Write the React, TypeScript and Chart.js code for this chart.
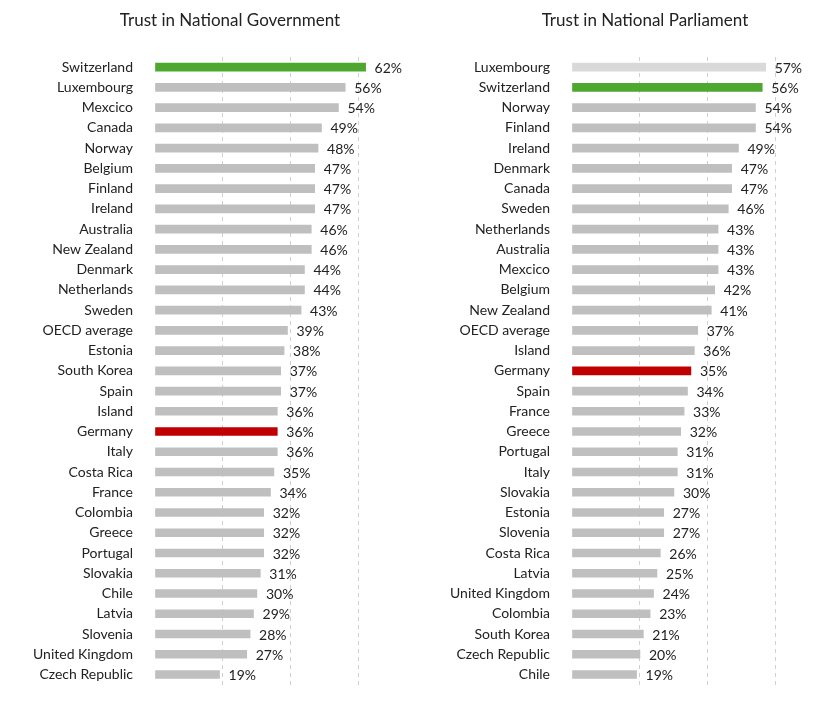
import React, { useEffect, useRef } from "react";
import { Chart, registerables } from "chart.js";
Chart.register(...registerables);

const govCountries = ["Switzerland","Luxembourg","Mexcico","Canada","Norway","Belgium","Finland","Ireland","Australia","New Zealand","Denmark","Netherlands","Sweden","OECD average","Estonia","South Korea","Spain","Island","Germany","Italy","Costa Rica","France","Colombia","Greece","Portugal","Slovakia","Chile","Latvia","Slovenia","United Kingdom","Czech Republic"];
const govValues = [62,56,54,49,48,47,47,47,46,46,44,44,43,39,38,37,37,36,36,36,35,34,32,32,32,31,30,29,28,27,19];
const parCountries = ["Luxembourg","Switzerland","Norway","Finland","Ireland","Denmark","Canada","Sweden","Netherlands","Australia","Mexcico","Belgium","New Zealand","OECD average","Island","Germany","Spain","France","Greece","Portugal","Italy","Slovakia","Estonia","Slovenia","Costa Rica","Latvia","United Kingdom","Colombia","South Korea","Czech Republic","Chile"];
const parValues = [57,56,54,54,49,47,47,46,43,43,43,42,41,37,36,35,34,33,32,31,31,30,27,27,26,25,24,23,21,20,19];
const gridTicks = [0, 20, 40, 60];

const FONT = "Lato, 'Open Sans', sans-serif";

function colorFor(name: string, idx: number, right: boolean) {
  if (name === "Switzerland") return "#4ea72e";
  if (name === "Germany") return "#c00000";
  if (right && idx === 0) return "#d9d9d9";
  return "#bfbfbf";
}

function Panel({ labels, values, right, left }: { labels: string[]; values: number[]; right: boolean; left: number }) {
  const ref = useRef<HTMLCanvasElement>(null);
  useEffect(() => {
    const axisW = right ? 164 : 155;
    const labelPlugin = {
      id: "vals",
      afterDatasetsDraw(chart: any) {
        const ctx = chart.ctx;
        const meta = chart.getDatasetMeta(0);
        ctx.save();
        ctx.font = `14px ${FONT}`;
        ctx.fillStyle = "#222";
        ctx.textBaseline = "middle";
        meta.data.forEach((bar: any, i: number) => {
          ctx.fillText(values[i] + "%", bar.x + 9, bar.y + 1);
        });
        ctx.restore();
      },
    };
    const chart = new Chart(ref.current!, {
      type: "bar",
      data: {
        labels,
        datasets: [{ data: values, backgroundColor: labels.map((l, i) => colorFor(l, i, right)), barThickness: 8 }],
      },
      options: {
        indexAxis: "y",
        responsive: false,
        animation: false,
        layout: { padding: { top: 57, bottom: 12, right: 408 - (right ? 395 : 386) } },
        plugins: { legend: { display: false }, tooltip: { enabled: false } },
        scales: {
          x: {
            min: 0, max: 68,
            ticks: { display: false },
            border: { display: false, dash: [4, 4] },
            grid: { color: (c: any) => (c.tick && c.tick.value === 0 ? "rgba(0,0,0,0)" : "#cfcfcf"), tickLength: 0 },
            afterBuildTicks: (s: any) => { s.ticks = gridTicks.map((v) => ({ value: v })); },
          },
          y: {
            grid: { display: false },
            border: { display: false },
            ticks: { color: "#222", font: { family: FONT, size: 14 }, padding: 14, autoSkip: false },
            afterFit: (s: any) => { s.width = axisW; },
          },
        },
      },
      plugins: [labelPlugin],
    } as any);
    return () => chart.destroy();
  }, []);
  return <canvas ref={ref} width={408} height={707} style={{ position: "absolute", left, top: 0 }} />;
}

export default function App() {
  return (
    <div style={{ position: "absolute", left: 0, top: 0, width: 817, height: 707, background: "#fff", fontFamily: FONT }}>
      <Panel labels={govCountries} values={govValues} right={false} left={0} />
      <Panel labels={parCountries} values={parValues} right={true} left={408} />
      <div style={{ position: "absolute", top: 9, left: 0, width: 460, textAlign: "center", fontSize: 17, color: "#222" }}>Trust in National Government</div>
      <div style={{ position: "absolute", top: 9, left: 415, width: 460, textAlign: "center", fontSize: 17, color: "#222" }}>Trust in National Parliament</div>
    </div>
  );
}
